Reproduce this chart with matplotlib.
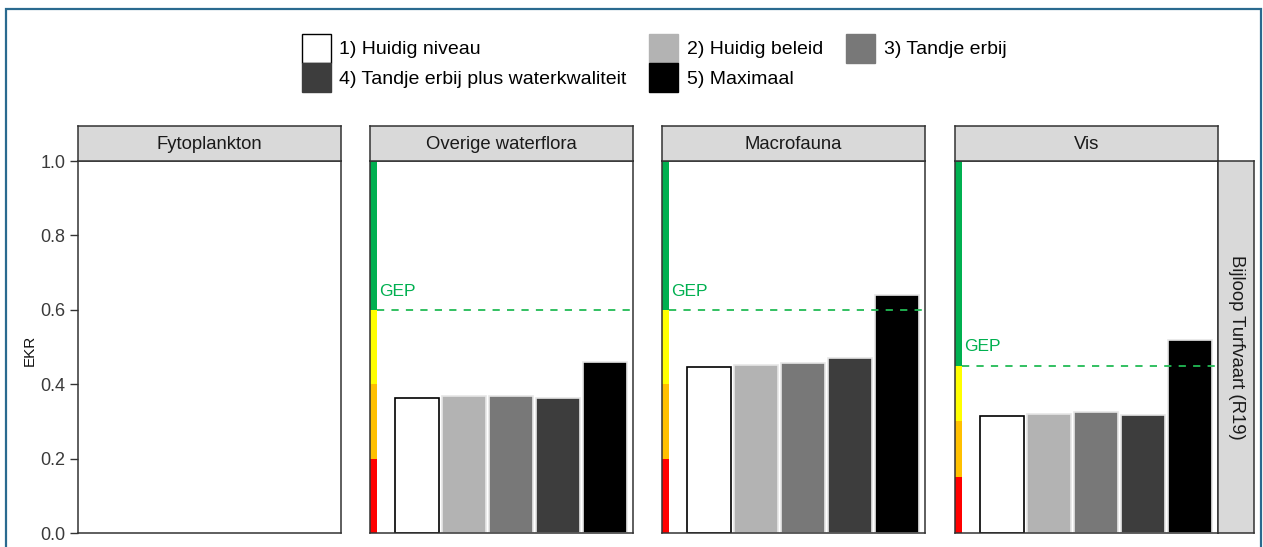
import matplotlib
matplotlib.use("Agg")
import matplotlib.pyplot as plt
from matplotlib.patches import Rectangle, Patch

plt.rcParams['font.family'] = ['Liberation Sans', 'DejaVu Sans']

# data
panels = ["Fytoplankton", "Overige waterflora", "Macrofauna", "Vis"]
scenarios = ["1) Huidig niveau", "2) Huidig beleid", "3) Tandje erbij",
             "4) Tandje erbij plus waterkwaliteit", "5) Maximaal"]
fills = ["#ffffff", "#b3b3b3", "#787878", "#3d3d3d", "#000000"]
overige = [0.362, 0.368, 0.368, 0.364, 0.460]
macrofauna = [0.446, 0.451, 0.456, 0.471, 0.640]
vis = [0.315, 0.320, 0.324, 0.316, 0.519]
values = [None, overige, macrofauna, vis]
gep = [None, 0.60, 0.60, 0.45]
row_label = "Bijloop Turfvaart (R19)"

W, H = 1263, 547
fig = plt.figure(figsize=(W / 100, H / 100), dpi=100)

def box(x0, y0, x1, y1):
    # pixel box (top-left origin) -> figure coords
    return [x0 / W, 1 - y1 / H, (x1 - x0) / W, (y1 - y0) / H]

# blue frame of the screenshot
fig.add_artist(Rectangle((6 / W, -0.05), (1261 - 6) / W, 1.05 - 9 / H,
                         transform=fig.transFigure, fill=False,
                         edgecolor="#2a6a8f", lw=1.6))

lefts = [78, 370, 662, 955]
pw = 263
top, bottom = 161, 533
edge = "#333333"
fs_strip = 13.3

for i, name in enumerate(panels):
    x0 = lefts[i]
    ax = fig.add_axes(box(x0, top, x0 + pw, bottom))
    ax.set_xlim(0, 5.6)
    ax.set_ylim(0, 1)
    ax.set_xticks([])
    for s in ax.spines.values():
        s.set_color(edge)
        s.set_linewidth(1.1)
    if i == 0:
        ax.set_yticks([0, 0.2, 0.4, 0.6, 0.8, 1.0])
        ax.set_yticklabels(["0.0", "0.2", "0.4", "0.6", "0.8", "1.0"])
        ax.tick_params(axis="y", labelsize=13, colors="#333333",
                       labelcolor="#3a3a3a", length=6, width=1, pad=3)
    else:
        ax.set_yticks([])

    if values[i] is not None:
        g = gep[i]
        bands = [(0, g / 3, "#ff0000"), (g / 3, 2 * g / 3, "#ffc000"),
                 (2 * g / 3, g, "#ffff00"), (g, 1.0, "#00b050")]
        for lo, hi, c in bands:
            ax.add_patch(Rectangle((0, lo), 0.15, hi - lo, color=c, lw=0, zorder=1))
        xs = [1, 2, 3, 4, 5]
        ecs = ["#000000"] + ["#e6e6e6"] * 4
        ax.bar(xs, values[i], width=0.94, color=fills, edgecolor=ecs,
               linewidth=1.2, zorder=2)
        ax.axhline(g, xmin=0.15 / 5.6, color="#22bb55", ls=(0, (4, 4)),
                   lw=1.3, zorder=3)
        ax.text(0.2, g + 0.03, "GEP", color="#00b050", fontsize=12.5,
                va="bottom", ha="left", zorder=4)

    # strip on top
    st = fig.add_axes(box(x0, 126, x0 + pw, top))
    st.set_facecolor("#d9d9d9")
    st.set_xticks([])
    st.set_yticks([])
    for s in st.spines.values():
        s.set_color(edge)
        s.set_linewidth(1.1)
    st.text(0.5, 0.48, name, ha="center", va="center", fontsize=fs_strip,
            color="#1a1a1a", transform=st.transAxes)

fig.text(30 / W, 1 - 350 / H, "EKR", rotation=90, ha="center", va="center",
         fontsize=11, color="#111111")

# strip on the right
rs = fig.add_axes(box(lefts[3] + pw, top, lefts[3] + pw + 36, bottom))
rs.set_facecolor("#d9d9d9")
rs.set_xticks([])
rs.set_yticks([])
for s in rs.spines.values():
    s.set_color(edge)
    s.set_linewidth(1.1)
rs.text(0.5, 0.5, row_label, ha="center", va="center", rotation=-90,
        fontsize=fs_strip, color="#1a1a1a", transform=rs.transAxes)

# legend, row-wise order
handles = [Patch(facecolor=f, edgecolor="#000000" if k == 0 else f, lw=1)
           for k, f in enumerate(fills)]
order = [0, 3, 1, 4, 2]
fig.legend([handles[k] for k in order], [scenarios[k] for k in order],
           ncol=3, loc="center", bbox_to_anchor=(654 / W, 1 - 63 / H),
           frameon=False, fontsize=14, handlelength=1.5, handleheight=1.95,
           labelspacing=0.0, columnspacing=1.15, handletextpad=0.45,
           borderpad=0)

fig.savefig("out.png", dpi=100)
